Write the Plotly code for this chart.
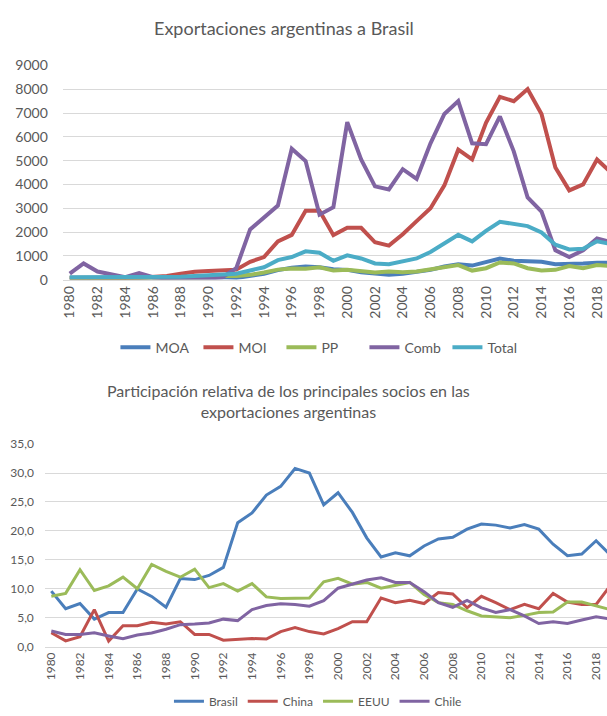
import plotly.graph_objects as go

# ---------------- data ----------------
years = list(range(1980, 2020))

# Exportaciones argentinas a Brasil
moa = [70, 80, 70, 60, 60, 70, 70, 70, 80, 80,
       90, 100, 70, 150, 250, 400, 500, 550, 520, 440,
       410, 310, 250, 200, 250, 310, 410, 550, 650, 590,
       750, 890, 790, 790, 750, 650, 650, 680, 710, 710]
moi = [80, 70, 60, 60, 70, 80, 100, 150, 250, 330,
       360, 370, 420, 750, 950, 1610, 1880, 2890, 2890, 1870,
       2180, 2180, 1570, 1430, 1910, 2460, 3000, 3960, 5460, 5050,
       6590, 7680, 7500, 8010, 6960, 4710, 3750, 4000, 5050, 4500]
pp = [60, 60, 50, 50, 50, 50, 60, 70, 80, 90,
      100, 150, 150, 200, 300, 420, 470, 460, 520, 380,
      410, 340, 300, 340, 310, 340, 440, 550, 610, 380,
      480, 720, 680, 480, 380, 410, 570, 480, 610, 570]
comb = [250, 680, 340, 200, 100, 270, 100, 50, 50, 50,
        40, 100, 480, 2110, 2590, 3110, 5500, 4980, 2730, 3040,
        6620, 5050, 3920, 3790, 4640, 4230, 5730, 6960, 7500, 5730,
        5690, 6860, 5390, 3450, 2860, 1230, 950, 1230, 1730, 1570]
total = [100, 100, 90, 80, 80, 80, 90, 100, 120, 150,
         200, 220, 250, 370, 520, 820, 950, 1190, 1130, 790,
         1020, 890, 680, 650, 750, 890, 1160, 1500, 1880, 1610,
         2050, 2430, 2350, 2250, 1980, 1470, 1270, 1300, 1610, 1500]

# Participación relativa de los principales socios (%)
brasil = [9.6, 6.55, 7.45, 4.76, 5.88, 5.88, 9.97, 8.68, 6.83, 11.76,
          11.59, 12.3, 13.7, 21.4, 23.1, 26.2, 27.7, 30.8, 30.0, 24.5,
          26.6, 23.2, 18.8, 15.5, 16.2, 15.7, 17.4, 18.6, 18.9, 20.3,
          21.2, 21.0, 20.5, 21.1, 20.3, 17.7, 15.7, 16.0, 18.3, 15.8]
china = [2.4, 1.0, 1.7, 6.4, 0.95, 3.6, 3.6, 4.2, 3.9, 4.3,
         2.1, 2.1, 1.1, 1.2, 1.4, 1.3, 2.6, 3.3, 2.6, 2.2,
         3.1, 4.3, 4.3, 8.4, 7.6, 8.0, 7.45, 9.35, 9.1, 6.7,
         8.7, 7.6, 6.4, 7.3, 6.55, 9.2, 7.7, 7.3, 7.3, 10.6]
eeuu = [8.7, 9.2, 13.3, 9.7, 10.5, 12.0, 10.0, 14.2, 13.0, 12.0,
        13.4, 10.2, 10.9, 9.6, 10.9, 8.6, 8.3, 8.4, 8.4, 11.2,
        11.8, 10.8, 11.1, 10.1, 10.6, 11.1, 9.0, 7.6, 7.3, 6.2,
        5.3, 5.15, 5.0, 5.4, 5.9, 6.0, 7.7, 7.7, 7.1, 6.4]
chile = [2.7, 2.1, 2.1, 2.4, 1.85, 1.35, 2.0, 2.35, 3.0, 3.8,
         3.9, 4.1, 4.75, 4.5, 6.4, 7.1, 7.4, 7.3, 7.0, 7.95,
         10.1, 10.8, 11.5, 11.9, 11.1, 11.1, 9.5, 7.6, 6.8, 8.0,
         6.7, 5.9, 6.4, 5.3, 4.0, 4.3, 4.0, 4.6, 5.15, 4.75]

x_tick_years = list(range(1980, 2019, 2))
x_tick_text = [str(y) for y in x_tick_years]
top_y_ticks = list(range(0, 9001, 1000))
top_y_text = [str(v) for v in top_y_ticks]
bot_y_ticks = [0, 5, 10, 15, 20, 25, 30, 35]
bot_y_text = ["0,0", "5,0", "10,0", "15,0", "20,0", "25,0", "30,0", "35,0"]

title_top = "Exportaciones argentinas a Brasil"
title_bottom = "Participación relativa de los principales socios en las<br>exportaciones argentinas"

# ---------------- styles ----------------
FONT = "Lato"
GRAY = "#595959"
GRID = "#d9d9d9"
W, H = 607, 716

top_series = [("MOA", moa, "#4a7ebb"), ("MOI", moi, "#c0504d"), ("PP", pp, "#9bbb59"),
              ("Comb", comb, "#8064a2"), ("Total", total, "#4bacc6")]
bot_series = [("Brasil", brasil, "#4a7ebb"), ("China", china, "#c0504d"),
              ("EEUU", eeuu, "#9bbb59"), ("Chile", chile, "#8064a2")]

fig = go.Figure()
for name, vals, col in top_series:
    fig.add_trace(go.Scatter(x=years, y=vals, name=name, mode="lines",
                             line=dict(color=col, width=4), xaxis="x", yaxis="y",
                             legend="legend"))
for name, vals, col in bot_series:
    fig.add_trace(go.Scatter(x=years, y=vals, name=name, mode="lines",
                             line=dict(color=col, width=3), xaxis="x2", yaxis="y2",
                             legend="legend2"))

def py(px):
    return (H - px) / H

def pxx(px):
    return px / W

fig.update_layout(
    width=W, height=H,
    margin=dict(l=0, r=0, t=0, b=0),
    paper_bgcolor="white", plot_bgcolor="white",
    font=dict(family=FONT, color=GRAY),
    xaxis=dict(domain=[pxx(61), 1], range=[1979.5, 2018.72], tickvals=x_tick_years,
               ticktext=x_tick_text, tickangle=-90, showgrid=False, zeroline=False,
               showline=True, linecolor=GRID, linewidth=1, ticks="",
               tickfont=dict(size=14, color=GRAY), anchor="y"),
    yaxis=dict(domain=[py(278), py(58)], range=[0, 9000], tickvals=top_y_ticks,
               ticktext=top_y_text, showgrid=True, gridcolor=GRID, gridwidth=1,
               zeroline=False, showline=False, ticks="", ticklabelstandoff=14,
               tickfont=dict(size=14, color=GRAY), anchor="x"),
    xaxis2=dict(domain=[pxx(43), 1], range=[1979.55, 2018.76], tickvals=x_tick_years,
                ticktext=x_tick_text, tickangle=-90, showgrid=False, zeroline=False,
                showline=True, linecolor=GRID, linewidth=1, ticks="",
                tickfont=dict(size=12, color=GRAY), anchor="y2"),
    yaxis2=dict(domain=[py(655), py(447)], range=[0, 35], tickvals=bot_y_ticks,
                ticktext=bot_y_text, showgrid=True, gridcolor=GRID, gridwidth=1,
                zeroline=False, showline=False, ticks="", ticklabelstandoff=10,
                tickfont=dict(size=12, color=GRAY), anchor="x2"),
    legend=dict(orientation="h", x=pxx(322), y=py(348), xanchor="center", yanchor="middle",
                font=dict(size=14, color=GRAY), bgcolor="rgba(0,0,0,0)",
                entrywidth=38, entrywidthmode="pixels"),
    legend2=dict(orientation="h", x=pxx(317), y=py(711), xanchor="center", yanchor="middle",
                 font=dict(size=12, color=GRAY), bgcolor="rgba(0,0,0,0)"),
    annotations=[
        dict(text=title_top, x=pxx(283), y=py(20), xref="paper", yref="paper",
             xanchor="center", yanchor="middle", showarrow=False,
             font=dict(size=18, color=GRAY, family=FONT)),
        dict(text=title_bottom, x=pxx(287), y=py(403), xref="paper", yref="paper",
             xanchor="center", yanchor="middle", showarrow=False,
             font=dict(size=16, color=GRAY, family=FONT)),
    ],
    hovermode=False,
)

fig.write_html("out.html", config={"displayModeBar": False},
               post_script="document.body.style.margin='0';document.body.style.overflow='hidden';")
